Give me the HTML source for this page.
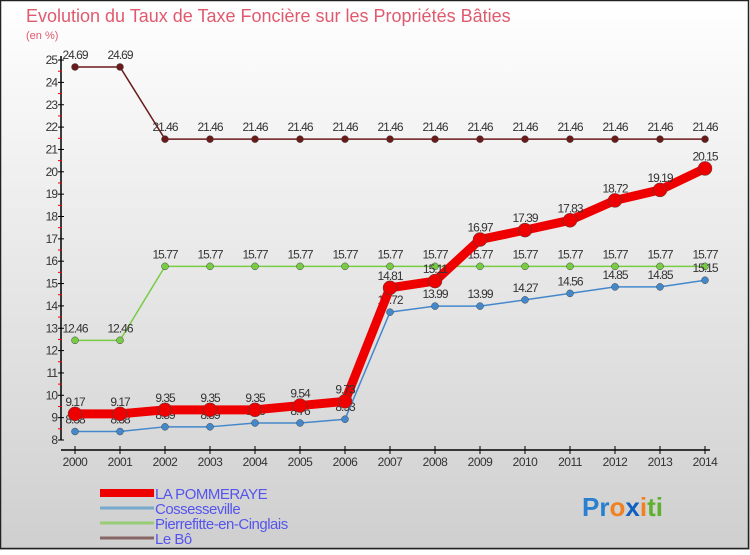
<!DOCTYPE html>
<html><head><meta charset="utf-8"><style>
html,body{margin:0;padding:0}
body{width:750px;height:550px;overflow:hidden;font-family:"Liberation Sans",sans-serif}
</style></head><body>
<svg id="chart" width="750" height="550" xmlns="http://www.w3.org/2000/svg">
<defs><linearGradient id="bg" x1="0" y1="0" x2="0" y2="1"><stop offset="0" stop-color="#ffffff"/><stop offset="1" stop-color="#cfcfcf"/></linearGradient></defs>
<rect x="0" y="0" width="750" height="550" fill="url(#bg)"/>
<rect x="0.5" y="0.5" width="748" height="548" fill="none" stroke="#222" stroke-width="1.5"/>
<text x="26" y="22" font-size="18" fill="#e05a6e">Evolution du Taux de Taxe Foncière sur les Propriétés Bâties</text>
<text x="26" y="39" font-size="11" fill="#e05a6e">(en %)</text>
<g id="axes"></g><g id="series"></g><g id="legend"></g>
<text x="582" y="516" font-size="26" font-weight="bold"><tspan fill="#2a80d0">Pr</tspan><tspan fill="#f08020">o</tspan><tspan fill="#1060c0">x</tspan><tspan fill="#f08020">i</tspan><tspan fill="#60b030">ti</tspan></text>
</svg>
<script>
const years=[2000,2001,2002,2003,2004,2005,2006,2007,2008,2009,2010,2011,2012,2013,2014];
const pommeraye=[9.17,9.17,9.35,9.35,9.35,9.54,9.73,14.81,15.11,16.97,17.39,17.83,18.72,19.19,20.15];
const cosses=[8.38,8.38,8.59,8.59,8.76,8.76,8.93,13.72,13.99,13.99,14.27,14.56,14.85,14.85,15.15];
const pierre=[12.46,12.46,15.77,15.77,15.77,15.77,15.77,15.77,15.77,15.77,15.77,15.77,15.77,15.77,15.77];
const lebo=[24.69,24.69,21.46,21.46,21.46,21.46,21.46,21.46,21.46,21.46,21.46,21.46,21.46,21.46,21.46];
const yTicks=[8,9,10,11,12,13,14,15,16,17,18,19,20,21,22,23,24,25];
const NS="http://www.w3.org/2000/svg";
const X=i=>75+i*45, Y=v=>440-(v-8)*22.35;
function mk(p,tag,at){const e=document.createElementNS(NS,tag);for(const k in at)e.setAttribute(k,at[k]);p.appendChild(e);return e;}
const ax=document.getElementById('axes');
let l=mk(ax,'line',{x1:61,y1:56,x2:61,y2:440,stroke:'#000','stroke-width':1.5});


l=mk(ax,'line',{x1:61,y1:450,x2:710,y2:450,stroke:'#000','stroke-width':1.5});


yTicks.forEach(v=>{
  mk(ax,'line',{x1:58,y1:Y(v),x2:64,y2:Y(v),stroke:'#000'});
  if(v<25)mk(ax,'line',{x1:58,y1:Y(v+0.5),x2:62,y2:Y(v+0.5),stroke:'#e00'});
  const t=mk(ax,'text',{x:57,y:Y(v)+4,'font-size':12,'text-anchor':'end',fill:'#333','letter-spacing':'-1'});
  t.textContent=v;
  
  
});
years.forEach((y,i)=>{
  mk(ax,'line',{x1:X(i),y1:446,x2:X(i),y2:454,stroke:'#000'});
  const t=mk(ax,'text',{x:X(i),y:466,'font-size':12,'text-anchor':'middle',fill:'#333','letter-spacing':'-0.5'});
  t.textContent=y;
  
  
});
const sg=document.getElementById('series');
function series(name,vals,color,w,r){
  const g=mk(sg,'g',{});
  
  
  const pl=mk(g,'polyline',{points:vals.map((v,i)=>X(i)+','+Y(v)).join(' '),fill:'none',stroke:color,'stroke-width':w,'stroke-linejoin':'round'});
  
  
  vals.forEach((v,i)=>{
    const c=mk(g,'circle',{cx:X(i),cy:Y(v),r:r,fill:color,stroke:'#444','stroke-width':0.5});
    
    
    const t=mk(g,'text',{x:X(i),y:Y(v)-8,'font-size':12,'text-anchor':'middle',fill:'#333','letter-spacing':'-1'});
    t.textContent=v.toFixed(2);
    
    
  });
}
series('le-bo',lebo,'#6b1a1a',1.5,3.5);
series('pierrefitte',pierre,'#77cc44',1.5,3.5);
series('cossesseville',cosses,'#4488cc',1.5,3.5);
series('la-pommeraye',pommeraye,'#ee0000',9,7);
const lg=document.getElementById('legend');
const items=[['LA POMMERAYE','#ee0000',8],['Cossesseville','#77aacc',3],['Pierrefitte-en-Cinglais','#99cc77',3],['Le Bô','#886666',3]];
items.forEach((it,k)=>{
  const y=493+k*15;
  const sw=mk(lg,'line',{x1:100,y1:y,x2:154,y2:y,stroke:it[1],'stroke-width':it[2]});
  
  
  const t=mk(lg,'text',{x:155,y:y+6,'font-size':15,fill:'#5555ee','letter-spacing':'-0.5'});
  t.textContent=it[0];
  
  
});
</script>
</body></html>
